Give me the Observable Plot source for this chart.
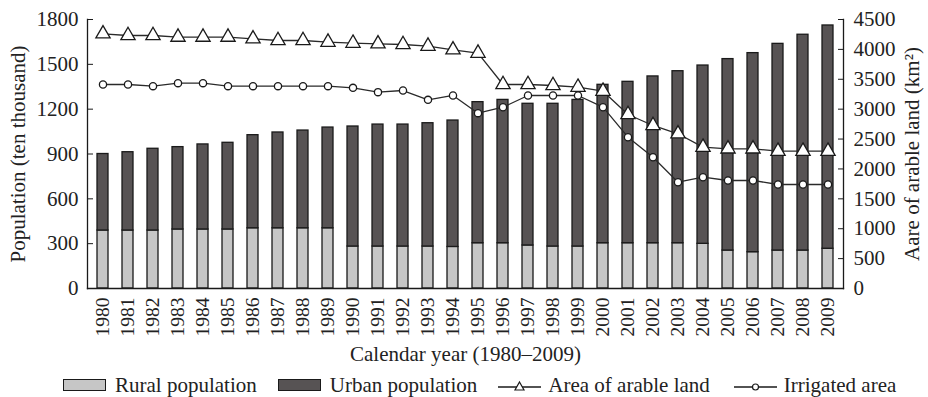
<!DOCTYPE html>
<html><head><meta charset="utf-8">
<script src="https://cdn.jsdelivr.net/npm/d3@7"></script>
<script src="https://cdn.jsdelivr.net/npm/@observablehq/plot@0.6"></script>
<style>
body{margin:0;background:#fff;font-family:"Liberation Serif",serif;color:#222;}
#legend{display:flex;align-items:center;height:30px;padding-top:3px;padding-left:63px;font-size:21px;white-space:nowrap;}
#legend .item{display:flex;align-items:center;margin-right:21px;}
#legend .item.wide{margin-right:24px;}
#legend .sw{display:inline-block;width:41px;height:10px;border:1.3px solid #1a1a1a;margin-right:9px;}
#legend svg{margin-right:7px;}
</style></head><body><div id="chart"></div><div id="legend"></div>
<script>
const years = [1980,1981,1982,1983,1984,1985,1986,1987,1988,1989,1990,1991,1992,1993,1994,1995,1996,1997,1998,1999,2000,2001,2002,2003,2004,2005,2006,2007,2008,2009];
const rural = [388,388,388,395,395,395,403,403,403,403,281,281,281,281,278,303,303,288,281,281,303,303,303,303,299,254,243,254,254,266];
const urban = [512,524,547,551,569,580,623,641,654,674,803,816,816,825,846,944,959,948,955,981,1060,1080,1116,1151,1193,1281,1332,1383,1444,1494];
const arable = [4260,4232,4232,4205,4205,4205,4177,4149,4149,4121,4104,4093,4082,4054,3993,3937,3413,3413,3396,3368,3301,2911,2727,2588,2364,2336,2336,2297,2297,2297];
const irrigated = [3413,3413,3385,3435,3435,3385,3385,3385,3385,3385,3357,3285,3312,3156,3229,2933,3033,3229,3229,3229,3033,2531,2196,1778,1862,1807,1807,1740,1740,1740];
const leftTicks = [0,300,600,900,1200,1500,1800];
const rightTicks = [0,500,1000,1500,2000,2500,3000,3500,4000,4500];
const barNames = ["Rural population","Urban population"];
const barColors = ["#c6c6c6","#575354"];
const lineNames = ["Area of arable land","Irrigated area"];
const leftLabel = "Population (ten thousand)";
const rightLabel = "Aare of arable land (km²)";
const xLabel = "Calendar year (1980–2009)";

const k = 1800 / 4500;
const popData = years.flatMap((y, i) => [
  {year: y, type: barNames[0], value: rural[i]},
  {year: y, type: barNames[1], value: urban[i]}
]);
const landData = years.map((y, i) => ({year: y, arable: arable[i], irrigated: irrigated[i]}));
const ink = "#1a1a1a";

const chart = Plot.plot({
  width: 928, height: 367,
  marginLeft: 87, marginRight: 85, marginTop: 19, marginBottom: 79,
  style: {fontFamily: "Liberation Serif, serif", fontSize: "21px", color: "#222", background: "#fff"},
  x: {type: "band", domain: years, paddingInner: 0.563, paddingOuter: 0.287},
  y: {domain: [0, 1800]},
  color: {domain: barNames, range: barColors},
  marks: [
    Plot.barY(popData, {x: "year", y: "value", fill: "type", stroke: ink, strokeWidth: 1.3}),
    Plot.line(landData, {x: "year", y: d => d.arable * k, stroke: "#2a2a2a", strokeWidth: 1.3}),
    Plot.dot(landData, {x: "year", y: d => d.arable * k, symbol: "triangle", r: 5.3, fill: "white", stroke: ink, strokeWidth: 1.3}),
    Plot.line(landData, {x: "year", y: d => d.irrigated * k, stroke: "#2a2a2a", strokeWidth: 1.3}),
    Plot.dot(landData, {x: "year", y: d => d.irrigated * k, symbol: "circle", r: 3.6, fill: "white", stroke: ink, strokeWidth: 1.3}),
    Plot.frame({anchor: "left", stroke: ink, strokeWidth: 1.3}),
    Plot.frame({anchor: "right", stroke: ink, strokeWidth: 1.3}),
    Plot.frame({anchor: "bottom", stroke: ink, strokeWidth: 1.3}),
    Plot.axisY(leftTicks, {anchor: "left", tickSize: -6, tickPadding: 15, label: null, fontSize: 21, tickFormat: d => String(d), stroke: ink}),
    Plot.axisY(rightTicks.map(v => v * k), {anchor: "right", tickSize: -6, tickPadding: 16, label: null, fontSize: 21, tickFormat: d => String(Math.round(d / k)), stroke: ink}),
    Plot.axisX({tickSize: 0, tickRotate: -90, tickPadding: 9, label: null, fontSize: 19.5, tickFormat: d => String(d)}),
    Plot.text([leftLabel], {frameAnchor: "left", textAnchor: "middle", rotate: -90, dx: -69, fontSize: 21, fill: "#222"}),
    Plot.text([rightLabel], {frameAnchor: "right", textAnchor: "middle", rotate: -90, dx: 69, fontSize: 21, fill: "#222"}),
    Plot.text([xLabel], {frameAnchor: "bottom", dy: 72, fontSize: 21, fill: "#222"})
  ]
});
document.getElementById("chart").append(chart);

const legend = document.getElementById("legend");
barNames.forEach((n, i) => {
  const it = document.createElement("span");
  it.className = "item";
  it.innerHTML = `<span class="sw" style="background:${barColors[i]}"></span><span>${n}</span>`;
  legend.append(it);
});
lineNames.forEach((n, i) => {
  const it = document.createElement("span");
  it.className = i === 0 ? "item wide" : "item";
  const sym = i === 0
    ? `<path d="M21.5,7 L26,15 L17,15 Z" fill="white" stroke="${ink}" stroke-width="1.2"/>`
    : `<circle cx="21.5" cy="12" r="3" fill="white" stroke="${ink}" stroke-width="1.2"/>`;
  it.innerHTML = `<svg width="43" height="20"><line x1="0" x2="43" y1="12" y2="12" stroke="${ink}" stroke-width="1.3"/>${sym}</svg><span>${n}</span>`;
  legend.append(it);
});
</script>
</body></html>
